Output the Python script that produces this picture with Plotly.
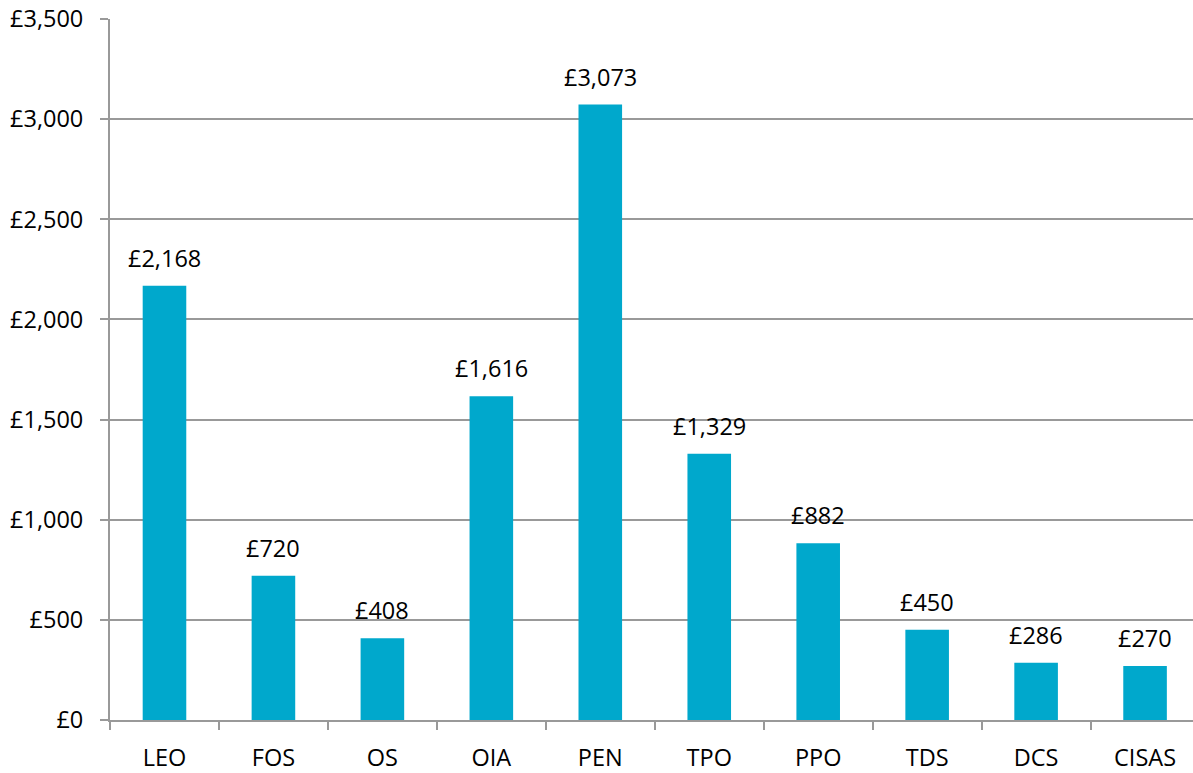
import plotly.graph_objects as go

categories = ["LEO", "FOS", "OS", "OIA", "PEN", "TPO", "PPO", "TDS", "DCS", "CISAS"]
values = [2168, 720, 408, 1616, 3073, 1329, 882, 450, 286, 270]
y_tickvals = [0, 500, 1000, 1500, 2000, 2500, 3000, 3500]
y_ticktext = ["£0", "£500", "£1,000", "£1,500", "£2,000", "£2,500", "£3,000", "£3,500"]

FONT = "Open Sans"
BAR = "#00A8CC"
GRID = "#999999"
FS = 23.5

fig = go.Figure()
fig.add_trace(go.Bar(
    x=categories, y=values, marker_color=BAR, marker_line_width=0,
    width=0.4, showlegend=False, hoverinfo="skip",
))
for c, v in zip(categories, values):
    fig.add_annotation(x=c, y=v, text=f"£{v:,}", showarrow=False,
                       yanchor="middle", yshift=28,
                       font=dict(family=FONT, size=FS, color="#000000"))

fig.update_layout(
    width=1193, height=773,
    margin=dict(l=110, r=0, t=19, b=53, pad=0),
    plot_bgcolor="white", paper_bgcolor="white",
    font=dict(family=FONT, size=FS, color="#000000"),
    bargap=0.6,
)
fig.update_xaxes(
    type="category", range=[-0.5, 9.44], automargin=False,
    showline=True, linecolor=GRID, linewidth=2,
    ticks="outside", tickson="boundaries", ticklen=8, tickcolor=GRID, tickwidth=2,
    showgrid=False, tickfont=dict(family=FONT, size=FS, color="#000000"),
    ticklabelstandoff=16,
)
fig.update_yaxes(
    range=[0, 3500], tickvals=y_tickvals, ticktext=y_ticktext, automargin=False,
    showline=True, linecolor=GRID, linewidth=2,
    ticks="outside", ticklen=8, tickcolor=GRID, tickwidth=2,
    showgrid=True, gridcolor=GRID, gridwidth=2, zeroline=False,
    tickfont=dict(family=FONT, size=FS, color="#000000"),
    ticklabelstandoff=12,
)
fig.write_html(
    "out.html",
    config={"displayModeBar": False},
    post_script="document.body.style.margin='0';document.body.style.overflow='hidden';",
)
